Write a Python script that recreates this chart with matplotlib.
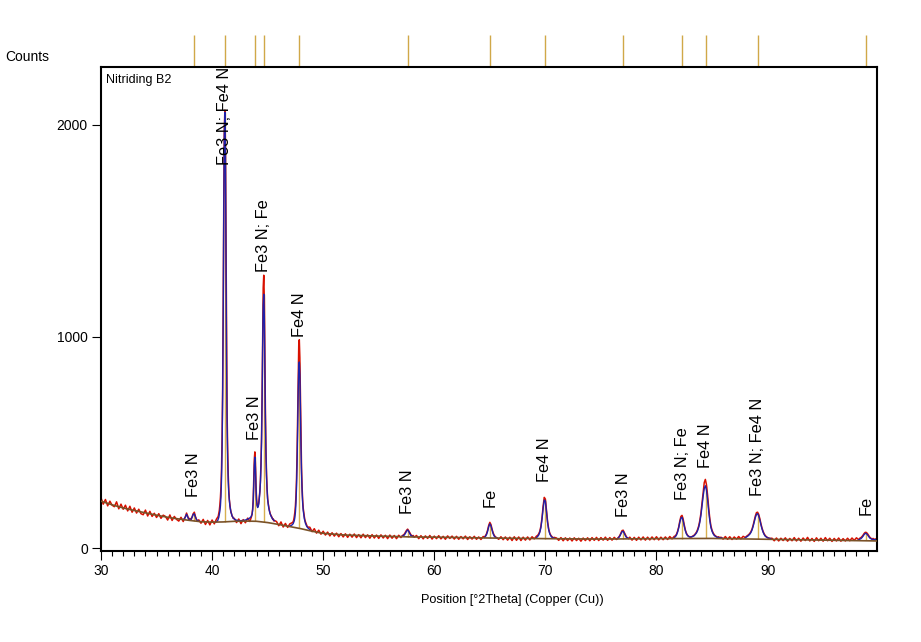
import numpy as np
import matplotlib
matplotlib.use("Agg")
import matplotlib.pyplot as plt
from matplotlib.ticker import MultipleLocator
from matplotlib.transforms import blended_transform_factory

plt.rcParams['font.family'] = ['Liberation Sans', 'DejaVu Sans']

seg_a = [238, 208, 230, 200, 222, 203, 196, 219, 186, 208, 184, 203, 176, 198, 170, 190, 166, 184, 163, 158,
         180, 152, 174, 150, 165, 145, 163, 141, 156, 150, 133, 157, 131, 150, 136, 128, 146, 126]
seg_b = [138, 150, 166, 152, 136, 141, 133, 148, 163, 170, 150, 134, 128, 134]
seg_c = [118, 136, 112, 131, 110, 133, 115, 138]
seg_d = [146, 150, 165, 178, 205, 240, 290, 380, 520, 760, 1150, 1620, 1980, 2070, 1900, 1450, 980, 640, 470,
         350, 280, 230, 205, 185, 170, 163, 152, 148, 141]
seg_e = [141, 121, 138, 116, 135, 120, 142, 126]
seg_f = [142, 150, 162, 185, 230, 320, 420, 455, 400, 300, 235, 205, 198, 200, 215, 240, 270, 320, 400, 520,
         720, 1000, 1230, 1290, 1180, 900, 640, 460, 350, 280, 235, 212, 195, 180, 170, 160, 155, 149, 145, 137,
         138, 129, 131]
seg_g = [126, 106, 124, 100, 117, 98, 115, 120]
seg_h = [125, 135, 150, 170, 200, 250, 330, 450, 620, 820, 960, 985, 900, 720, 520, 380, 290, 230, 190, 168,
         150, 134, 125, 118, 112, 104, 100]
seg_i = [99, 78, 92, 71, 85, 66, 80, 62, 76, 58, 73, 57, 71, 54, 69, 53, 68, 51, 66, 52, 67, 50, 64, 49, 66,
         50, 63, 47, 64, 48, 62, 46, 63, 48, 61, 45, 62, 47, 60, 45, 61, 50]
seg_j = [58, 62, 66, 75, 84, 90, 82, 72, 63, 57, 60, 52]
seg_k = [60, 45, 59, 44, 58, 46, 60, 43, 57, 45, 59, 44, 56, 42, 58, 46, 57, 43, 56, 42, 55, 44, 57, 41, 54,
         43, 56, 42, 53, 41, 55]
seg_l = [53, 58, 68, 85, 108, 122, 112, 90, 72, 60, 54, 50]
seg_m = [42, 54, 40, 53, 38, 52, 36, 54, 37, 53, 36, 52, 38, 53, 39, 54, 44, 57]
seg_n = [60, 68, 80, 105, 145, 200, 240, 232, 180, 125, 90, 70, 60, 54, 49, 51]
seg_o = [48, 37, 50, 35, 49, 36, 48, 34, 49, 36, 47, 33, 48, 36, 49, 35, 50, 37, 51, 36, 50, 38, 52, 37, 50,
         38, 51, 41]
seg_p = [47, 52, 60, 72, 83, 85, 74, 62, 53, 48, 45]
seg_q = [52, 38, 51, 37, 52, 39, 53, 38, 52, 39, 53, 40, 54, 39, 52, 40, 53, 41, 55, 44, 56]
seg_r = [58, 66, 80, 100, 128, 150, 155, 138, 110, 86, 70, 61, 56, 53, 52, 55, 58, 62, 68, 76, 88, 105, 130,
         165, 215, 265, 310, 325, 300, 250, 190, 140, 105, 85, 72, 64, 58, 55, 50, 54, 48, 52]
seg_s = [43, 55, 42, 54, 41, 53, 43, 55, 44, 56, 50]
seg_t = [56, 60, 64, 70, 78, 90, 108, 130, 152, 168, 170, 160, 140, 116, 95, 79, 67, 59, 54, 50, 48, 46]
seg_u = [47, 35, 48, 34, 47, 36, 49, 33, 46, 35, 50, 34, 47, 33, 48, 36, 51, 34, 46, 32, 49, 35, 47, 33, 50,
         35, 47, 32, 46, 34, 48, 33, 45, 34, 47, 35, 48, 37, 49, 40]
seg_v = [47, 50, 55, 62, 70, 75, 74, 68, 60, 52, 47, 43, 46, 40, 44, 39, 42]

scan = [(30.0, 0.2, seg_a), (37.5, 0.1, seg_b), (39.0, 0.2, seg_c), (40.5, 0.05, seg_d),
        (42.0, 0.2, seg_e), (43.5, 0.05, seg_f), (45.8, 0.2, seg_g), (47.3, 0.05, seg_h),
        (48.8, 0.2, seg_i), (57.1, 0.1, seg_j), (58.4, 0.2, seg_k), (64.5, 0.1, seg_l),
        (65.8, 0.2, seg_m), (69.3, 0.1, seg_n), (71.0, 0.2, seg_o), (76.5, 0.1, seg_p),
        (77.6, 0.2, seg_q), (81.7, 0.1, seg_r), (86.0, 0.2, seg_s), (88.1, 0.1, seg_t),
        (90.4, 0.2, seg_u), (98.3, 0.1, seg_v)]

# background line
bg_pos = [30, 31, 32, 33, 34, 35, 36, 37, 38, 39, 40, 41, 42, 43, 44, 45, 46, 47, 48, 49, 50,
          52, 55, 58, 60, 65, 70, 75, 80, 85, 90, 95, 100]
bg_counts = [222, 205, 190, 178, 167, 156, 146, 138, 131, 125, 123, 124, 127, 128, 127, 121, 112, 102, 92,
             80, 70, 62, 57, 53, 52, 48, 45, 43, 45, 46, 42, 38, 34]

# calculated profile around the peaks
calc_a_pos = [37.4, 37.5, 37.6, 37.7, 37.8, 37.9, 38.0, 38.1, 38.2, 38.3, 38.4, 38.5, 38.6, 38.7, 38.8]
calc_a = [136, 138, 148, 160, 148, 137, 134, 136, 146, 160, 162, 147, 135, 130, 128]
calc_b_pos = [40.4, 40.5, 40.6, 40.7, 40.75, 40.8, 40.85, 40.9, 40.95, 41.0, 41.05, 41.1, 41.15, 41.2, 41.25,
              41.3, 41.35, 41.4, 41.45, 41.5, 41.6, 41.7, 41.8, 41.9, 42.0, 42.2, 42.4, 42.6, 42.8, 43.0,
              43.2, 43.4, 43.5, 43.6, 43.65, 43.7, 43.75, 43.8, 43.85, 43.9, 43.95, 44.0, 44.05, 44.1,
              44.15, 44.2, 44.25, 44.3, 44.35, 44.4, 44.45, 44.5, 44.55, 44.6, 44.65, 44.7, 44.75, 44.8,
              44.85, 44.9, 44.95, 45.0, 45.1, 45.2, 45.3, 45.4, 45.5, 45.6]
calc_b = [125, 130, 145, 175, 200, 245, 330, 470, 720, 1100, 1600, 1950, 2060, 1880, 1400, 900, 590, 420,
          320, 260, 200, 170, 152, 143, 137, 132, 130, 130, 131, 133, 137, 143, 148, 160, 180, 220, 300,
          390, 430, 380, 290, 228, 200, 192, 196, 210, 235, 265, 310, 385, 500, 690, 950, 1150, 1200, 1100,
          850, 610, 440, 340, 275, 230, 190, 166, 152, 142, 135, 130]
calc_c_pos = [47.0, 47.2, 47.3, 47.4, 47.45, 47.5, 47.55, 47.6, 47.65, 47.7, 47.75, 47.8, 47.85, 47.9,
              47.95, 48.0, 48.05, 48.1, 48.15, 48.2, 48.3, 48.4, 48.5, 48.6, 48.8]
calc_c = [104, 110, 116, 130, 145, 170, 215, 290, 400, 560, 740, 860, 880, 820, 660, 480, 355, 270, 215,
          180, 140, 118, 105, 97, 88]
calc_d_pos = [57.1, 57.3, 57.4, 57.5, 57.6, 57.7, 57.8, 57.9, 58.1]
calc_d = [56, 62, 70, 80, 86, 79, 68, 60, 55]
calc_e_pos = [64.5, 64.6, 64.7, 64.8, 64.9, 65.0, 65.1, 65.2, 65.3, 65.4, 65.5, 65.7]
calc_e = [50, 55, 64, 80, 102, 115, 106, 86, 68, 57, 51, 47]
calc_f_pos = [69.2, 69.3, 69.4, 69.5, 69.6, 69.7, 69.8, 69.9, 70.0, 70.1, 70.2, 70.3, 70.4, 70.5, 70.6, 70.8]
calc_f = [50, 55, 62, 75, 98, 138, 190, 228, 222, 172, 120, 86, 67, 57, 51, 47]
calc_g_pos = [76.5, 76.6, 76.7, 76.8, 76.9, 77.0, 77.1, 77.2, 77.3, 77.5]
calc_g = [45, 50, 57, 68, 78, 80, 71, 59, 51, 46]
calc_h_pos = [81.6, 81.7, 81.8, 81.9, 82.0, 82.1, 82.2, 82.3, 82.4, 82.5, 82.6, 82.7, 82.8, 82.9, 83.0, 83.2,
              83.4, 83.6, 83.7, 83.8, 83.9, 84.0, 84.1, 84.2, 84.3, 84.4, 84.5, 84.6, 84.7, 84.8, 84.9, 85.0,
              85.1, 85.2, 85.4, 85.6, 85.9]
calc_h = [50, 54, 62, 76, 96, 122, 142, 146, 130, 104, 82, 67, 59, 55, 53, 54, 59, 72, 83, 99, 122, 155,
          200, 245, 282, 295, 275, 230, 176, 130, 98, 80, 68, 60, 53, 50, 48]
calc_i_pos = [88.0, 88.2, 88.4, 88.5, 88.6, 88.7, 88.8, 88.9, 89.0, 89.1, 89.2, 89.3, 89.4, 89.5, 89.6, 89.7,
              89.8, 90.0, 90.3]
calc_i = [50, 56, 66, 74, 86, 103, 124, 145, 160, 163, 153, 134, 111, 91, 75, 64, 56, 49, 45]
calc_j_pos = [98.2, 98.4, 98.5, 98.6, 98.7, 98.8, 98.9, 99.0, 99.1, 99.2, 99.4, 99.7]
calc_j = [40, 45, 50, 57, 65, 70, 69, 63, 55, 48, 42, 40]

calc = [(calc_a_pos, calc_a), (calc_b_pos, calc_b), (calc_c_pos, calc_c), (calc_d_pos, calc_d),
        (calc_e_pos, calc_e), (calc_f_pos, calc_f), (calc_g_pos, calc_g), (calc_h_pos, calc_h),
        (calc_i_pos, calc_i), (calc_j_pos, calc_j)]

# identified peaks
peak_pos = [38.35, 41.15, 43.85, 44.66, 47.85, 57.6, 65.0, 69.95, 77.0, 82.3, 84.45, 89.1, 98.85]
stick_bottom = [130, 124, 127, 125, 93, 55, 48, 45, 43, 45, 46, 42, 37]
stick_top = [162, 2060, 430, 1200, 880, 86, 115, 228, 80, 146, 295, 163, 70]
peak_labels = ["Fe3 N", "Fe3 N; Fe4 N", "Fe3 N", "Fe3 N; Fe", "Fe4 N", "Fe3 N", "Fe", "Fe4 N",
               "Fe3 N", "Fe3 N; Fe", "Fe4 N", "Fe3 N; Fe4 N", "Fe"]
label_counts = [240, 1811, 509, 1307, 1000, 160, 193, 311, 146, 226, 377, 245, 156]

obs_x = np.concatenate([s + st * np.arange(len(c)) for s, st, c in scan])
obs_y = np.concatenate([np.array(c, float) for s, st, c in scan])

fig = plt.figure(figsize=(9.21, 6.42), dpi=100)
ax = fig.add_axes([101 / 921, 1 - 550.5 / 642, 776 / 921, 483.5 / 642])

ax.vlines(peak_pos, stick_bottom, stick_top, color='#D8B050', lw=1, zorder=1)
ax.plot(obs_x, obs_y, color='#D81000', lw=1.1, zorder=2)
for px, py in calc:
    ax.plot(px, py, color='#2020A8', lw=1.0, zorder=3)
ax.plot(bg_pos, bg_counts, color='#7A5228', lw=1.2, zorder=4)

for x, lab, yc in zip(peak_pos, peak_labels, label_counts):
    ax.text(x, yc, lab, rotation=90, ha='center', va='bottom', fontsize=11.8, zorder=5)

# reference markers above the frame
trans = blended_transform_factory(ax.transData, ax.transAxes)
ax.vlines(peak_pos, 1.0, 1 + 32 / 483.5, transform=trans, color='#D0A848', lw=1, clip_on=False)

ax.set_xlim(30, 99.85)
ax.set_ylim(-11, 2274)
ax.xaxis.set_major_locator(MultipleLocator(10))
ax.xaxis.set_minor_locator(MultipleLocator(1))
ax.set_yticks([0, 1000, 2000])
ax.tick_params(axis='both', which='major', direction='out', length=6.5, width=0.8, labelsize=10, pad=3)
ax.tick_params(axis='x', which='minor', direction='out', length=3.5, width=0.8)
for sp in ax.spines.values():
    sp.set_linewidth(1.5)

ax.text(0.006, 0.985, "Nitriding B2", transform=ax.transAxes, ha='left', va='top', fontsize=9)
fig.text(5 / 921, 1 - 57 / 642, "Counts", ha='left', va='center', fontsize=10)
fig.text(512 / 921, 1 - 600 / 642, "Position [°2Theta] (Copper (Cu))", ha='center', va='center', fontsize=9.2)

fig.savefig("out.png", dpi=100)
